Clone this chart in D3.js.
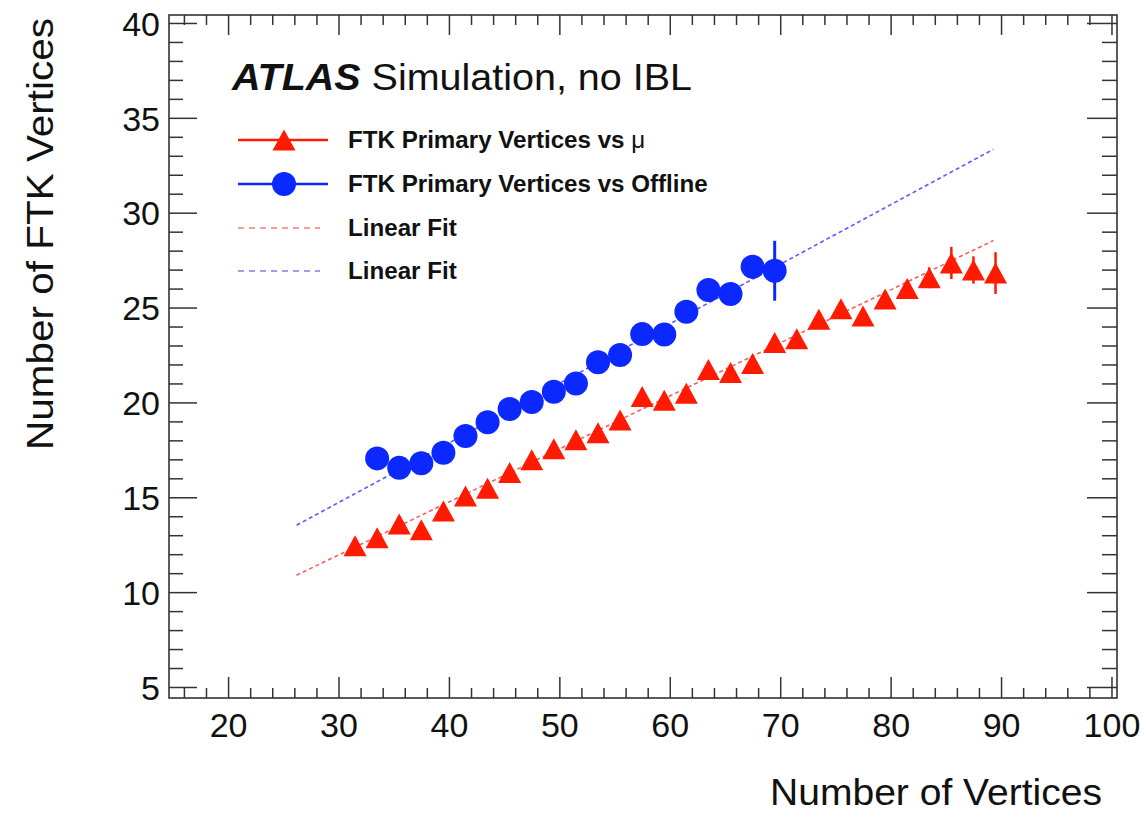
<!DOCTYPE html>
<html>
<head>
<meta charset="utf-8">
<script src="https://cdn.jsdelivr.net/npm/d3@7"></script>
<style>
  html, body { margin: 0; padding: 0; background: #fff; }
  svg { display: block; }
  text { font-family: "Liberation Sans", Arial, Helvetica, sans-serif; fill: #111; }
</style>
</head>
<body>
<svg id="chart" width="1146" height="813"></svg>
<script>
// ---------------- data ----------------
const xMajorTicks = [20, 30, 40, 50, 60, 70, 80, 90, 100];
const xMinorTicks = [16, 18, 22, 24, 26, 28, 32, 34, 36, 38, 42, 44, 46, 48, 52, 54, 56, 58, 62, 64, 66, 68, 72, 74, 76, 78, 82, 84, 86, 88, 92, 94, 96, 98];
const yMajorTicks = [5, 10, 15, 20, 25, 30, 35, 40];
const yMinorTicks = [6, 7, 8, 9, 11, 12, 13, 14, 16, 17, 18, 19, 21, 22, 23, 24, 26, 27, 28, 29, 31, 32, 33, 34, 36, 37, 38, 39];

// FTK Primary Vertices vs mu (red triangles)
const muX = [31.5, 33.5, 35.5, 37.5, 39.5, 41.5, 43.5, 45.5, 47.5, 49.5, 51.5, 53.5, 55.5, 57.5, 59.5, 61.5, 63.5, 65.5, 67.5, 69.5, 71.5, 73.5, 75.5, 77.5, 79.5, 81.5, 83.5, 85.5, 87.5, 89.5];
const muY = [12.45, 12.87, 13.59, 13.29, 14.28, 15.07, 15.47, 16.31, 16.98, 17.56, 18.03, 18.40, 19.07, 20.31, 20.12, 20.48, 21.74, 21.58, 22.05, 23.16, 23.36, 24.38, 24.94, 24.55, 25.45, 26.00, 26.57, 27.35, 26.98, 26.82];
const muErr = [0.08, 0.07, 0.07, 0.07, 0.07, 0.07, 0.07, 0.08, 0.08, 0.08, 0.09, 0.10, 0.10, 0.11, 0.12, 0.13, 0.15, 0.17, 0.20, 0.23, 0.25, 0.28, 0.32, 0.36, 0.40, 0.45, 0.55, 0.85, 0.72, 1.10];

// FTK Primary Vertices vs Offline (blue circles)
const offX = [33.5, 35.5, 37.5, 39.5, 41.5, 43.5, 45.5, 47.5, 49.5, 51.5, 53.5, 55.5, 57.5, 59.5, 61.5, 63.5, 65.5, 67.5, 69.5];
const offY = [17.05, 16.55, 16.79, 17.35, 18.23, 18.95, 19.65, 20.02, 20.56, 21.00, 22.12, 22.50, 23.60, 23.58, 24.78, 25.93, 25.71, 27.15, 26.94];
const offErr = [0.10, 0.10, 0.10, 0.10, 0.11, 0.12, 0.13, 0.14, 0.15, 0.17, 0.19, 0.22, 0.25, 0.30, 0.35, 0.42, 0.50, 0.62, 1.58];

// Linear fits: [intercept, slope] and x range
const fitMuCoef = [3.57, 0.2795];
const fitOffCoef = [5.30, 0.314];
const fitRange = [26.2, 89.3];

const legendLabels = ["FTK Primary Vertices vs ", "FTK Primary Vertices vs Offline", "Linear Fit", "Linear Fit"];

// ---------------- layout ----------------
const svg = d3.select("#chart");
const L = 169, R = 1117, T = 15, B = 698;
const x = d3.scaleLinear().domain([14.65, 100.5]).range([L, R]);
const y = d3.scaleLinear().domain([4.42, 40.42]).range([B, T]);

const RED = "#ff1a00", BLUE = "#0a28ff";
const RED_FIT = "#ff5a5a", BLUE_FIT = "#5a5aff";
const AXIS = "#333";

svg.append("rect").attr("width", 1146).attr("height", 813).attr("fill", "#fff");

// stretch text horizontally like the reference rendering
function widen(sel, k) {
  sel.each(function () {
    const w = this.getComputedTextLength();
    d3.select(this).attr("textLength", w * k).attr("lengthAdjust", "spacingAndGlyphs");
  });
}

// ---------------- axes (ticks inside) ----------------
function styleAxis(g) {
  g.select(".domain").remove();
  g.selectAll(".tick line").attr("stroke", AXIS).attr("stroke-width", 1.5);
}
// bottom
svg.append("g").attr("transform", `translate(0,${B})`)
  .call(d3.axisBottom(x).tickValues(xMajorTicks).tickSize(-21).tickPadding(15).tickFormat(d3.format("d")))
  .call(styleAxis)
  .call(g => g.selectAll("text").attr("font-size", 34).attr("fill", "#111"));
svg.append("g").attr("transform", `translate(0,${B})`)
  .call(d3.axisBottom(x).tickValues(xMinorTicks).tickSize(-10).tickFormat(""))
  .call(styleAxis);
// top
svg.append("g").attr("transform", `translate(0,${T})`)
  .call(d3.axisTop(x).tickValues(xMajorTicks).tickSize(-20).tickFormat(""))
  .call(styleAxis);
svg.append("g").attr("transform", `translate(0,${T})`)
  .call(d3.axisTop(x).tickValues(xMinorTicks).tickSize(-10).tickFormat(""))
  .call(styleAxis);
// left
svg.append("g").attr("transform", `translate(${L},0)`)
  .call(d3.axisLeft(y).tickValues(yMajorTicks).tickSize(-28).tickPadding(9).tickFormat(d3.format("d")))
  .call(styleAxis)
  .call(g => g.selectAll("text").attr("font-size", 34).attr("fill", "#111").attr("dy", "0.36em"));
svg.append("g").attr("transform", `translate(${L},0)`)
  .call(d3.axisLeft(y).tickValues(yMinorTicks).tickSize(-14).tickFormat(""))
  .call(styleAxis);
// right
svg.append("g").attr("transform", `translate(${R},0)`)
  .call(d3.axisRight(y).tickValues(yMajorTicks).tickSize(-30).tickFormat(""))
  .call(styleAxis);
svg.append("g").attr("transform", `translate(${R},0)`)
  .call(d3.axisRight(y).tickValues(yMinorTicks).tickSize(-15).tickFormat(""))
  .call(styleAxis);

// frame
svg.append("rect").attr("x", L).attr("y", T).attr("width", R - L).attr("height", B - T)
  .attr("fill", "none").attr("stroke", AXIS).attr("stroke-width", 1.6);

// axis titles
svg.append("text").attr("x", 1102).attr("y", 805).attr("text-anchor", "end")
  .attr("font-size", 37).attr("textLength", 332).attr("lengthAdjust", "spacingAndGlyphs")
  .text("Number of Vertices");
svg.append("text").attr("transform", "translate(53,18) rotate(-90)").attr("text-anchor", "end")
  .attr("font-size", 37).attr("textLength", 432).attr("lengthAdjust", "spacingAndGlyphs")
  .text("Number of FTK Vertices");

// ---------------- fit lines ----------------
const fitLine = d3.line().x(d => x(d[0])).y(d => y(d[1]));
function fitPts(c) { return fitRange.map(v => [v, c[0] + c[1] * v]); }
svg.append("path").datum(fitPts(fitOffCoef)).attr("d", fitLine)
  .attr("fill", "none").attr("stroke", BLUE_FIT).attr("stroke-width", 1.6).attr("stroke-dasharray", "4,3");
svg.append("path").datum(fitPts(fitMuCoef)).attr("d", fitLine)
  .attr("fill", "none").attr("stroke", RED_FIT).attr("stroke-width", 1.6).attr("stroke-dasharray", "4,3");

// ---------------- markers ----------------
const triPath = "M0,-10.5 L11.5,10.5 L-11.5,10.5 Z";
const mu = muX.map((v, i) => ({ x: v, y: muY[i], e: muErr[i] }));
const off = offX.map((v, i) => ({ x: v, y: offY[i], e: offErr[i] }));

// error bars
svg.append("g").selectAll("line").data(mu).join("line")
  .attr("x1", d => x(d.x)).attr("x2", d => x(d.x))
  .attr("y1", d => y(d.y - d.e)).attr("y2", d => y(d.y + d.e))
  .attr("stroke", RED).attr("stroke-width", 2.5);
svg.append("g").selectAll("line").data(off).join("line")
  .attr("x1", d => x(d.x)).attr("x2", d => x(d.x))
  .attr("y1", d => y(d.y - d.e)).attr("y2", d => y(d.y + d.e))
  .attr("stroke", BLUE).attr("stroke-width", 3);

svg.append("g").selectAll("path").data(mu).join("path")
  .attr("d", triPath).attr("transform", d => `translate(${x(d.x)},${y(d.y)})`)
  .attr("fill", RED);
svg.append("g").selectAll("circle").data(off).join("circle")
  .attr("cx", d => x(d.x)).attr("cy", d => y(d.y)).attr("r", 12)
  .attr("fill", BLUE);

// ---------------- ATLAS label ----------------
const atlas = svg.append("text").attr("x", 232).attr("y", 90).attr("font-size", 37)
  .attr("textLength", 460).attr("lengthAdjust", "spacingAndGlyphs");
atlas.append("tspan").attr("font-weight", "bold").attr("font-style", "italic").text("ATLAS");
atlas.append("tspan").text(" Simulation, no IBL");

// ---------------- legend ----------------
const lg = svg.append("g");
const rowsY = [140, 184, 228, 271];
const lx0 = 238, lx1 = 328, lmx = 284, ltx = 348;
// row 1
lg.append("line").attr("x1", lx0).attr("x2", lx1).attr("y1", rowsY[0]).attr("y2", rowsY[0])
  .attr("stroke", RED).attr("stroke-width", 2.5);
lg.append("path").attr("d", triPath).attr("transform", `translate(${lmx},${rowsY[0]})`).attr("fill", RED);
// row 2
lg.append("line").attr("x1", lx0).attr("x2", lx1).attr("y1", rowsY[1]).attr("y2", rowsY[1])
  .attr("stroke", BLUE).attr("stroke-width", 2.5);
lg.append("circle").attr("cx", lmx).attr("cy", rowsY[1]).attr("r", 12).attr("fill", BLUE);
// rows 3,4
lg.append("line").attr("x1", lx0).attr("x2", lx1 - 8).attr("y1", rowsY[2]).attr("y2", rowsY[2])
  .attr("stroke", "#f08080").attr("stroke-width", 1.6).attr("stroke-dasharray", "6,5");
lg.append("line").attr("x1", lx0).attr("x2", lx1 - 8).attr("y1", rowsY[3]).attr("y2", rowsY[3])
  .attr("stroke", "#8080e0").attr("stroke-width", 1.6).attr("stroke-dasharray", "6,5");

const legTexts = [];
legendLabels.forEach((t, i) => {
  const tx = lg.append("text").attr("x", ltx).attr("y", rowsY[i] + 8)
    .attr("font-size", 23).attr("font-weight", "bold").text(t);
  if (i === 0) tx.append("tspan").attr("font-weight", "normal").text("μ");
  legTexts.push(tx.node());
});
widen(d3.selectAll(legTexts), 1.05);
</script>
</body>
</html>
